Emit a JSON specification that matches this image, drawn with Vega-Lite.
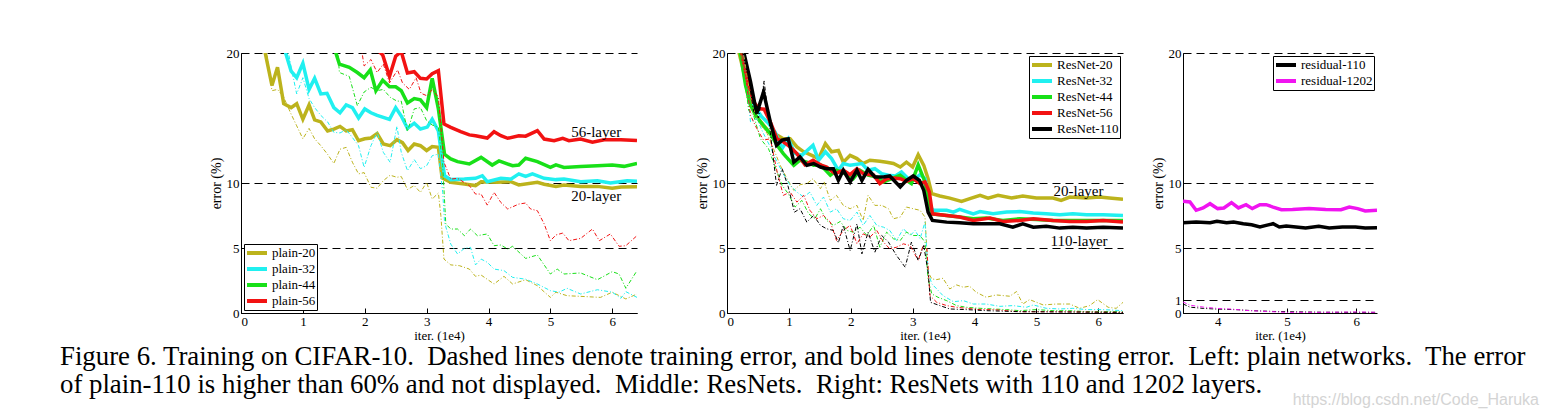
{
  "$schema": "https://vega.github.io/schema/vega-lite/v6.json",
  "padding": {"left": 60, "top": 47, "right": 5, "bottom": 5},
  "background": "white",
  "config": {
    "font": "Liberation Serif",
    "view": {"stroke": null},
    "axis": {
      "labelFont": "Liberation Serif", "labelFontSize": 13, "labelColor": "black",
      "titleFont": "Liberation Serif", "titleFontSize": 14, "titleFontWeight": "normal", "titleColor": "black",
      "domainColor": "black", "domainWidth": 1, "tickColor": "black", "tickSize": -5, "labelPadding": 7,
      "gridColor": "black", "gridDash": [8, 5], "gridWidth": 1, "gridOpacity": 1
    },
    "axisX": {"grid": false, "titlePadding": 1, "titleFontSize": 13},
    "axisY": {"grid": true, "titlePadding": 3},
    "legend": {
      "strokeColor": "black", "fillColor": "white", "padding": 1, "cornerRadius": 0,
      "labelFont": "Liberation Serif", "labelFontSize": 13, "labelColor": "black",
      "symbolType": "stroke", "symbolStrokeWidth": 4, "symbolSize": 400, "symbolDash": [],
      "rowPadding": 0, "clipHeight": 16, "labelOffset": 3, "offset": 3, "titlePadding": 0
    }
  },
  "datasets": {
    "left": [
      {"series":"plain-20","kind":"test","x":0.37,"y":20.5},{"series":"plain-20","kind":"test","x":0.5,"y":17.5},{"series":"plain-20","kind":"test","x":0.59,"y":18.9},{"series":"plain-20","kind":"test","x":0.69,"y":16.1},{"series":"plain-20","kind":"test","x":0.81,"y":15.8},{"series":"plain-20","kind":"test","x":0.9,"y":16.1},{"series":"plain-20","kind":"test","x":1.0,"y":14.9},{"series":"plain-20","kind":"test","x":1.1,"y":16.0},{"series":"plain-20","kind":"test","x":1.19,"y":14.85},{"series":"plain-20","kind":"test","x":1.29,"y":14.7},{"series":"plain-20","kind":"test","x":1.4,"y":14.0},{"series":"plain-20","kind":"test","x":1.5,"y":14.15},{"series":"plain-20","kind":"test","x":1.6,"y":14.35},{"series":"plain-20","kind":"test","x":1.7,"y":14.0},{"series":"plain-20","kind":"test","x":1.8,"y":14.1},{"series":"plain-20","kind":"test","x":1.9,"y":13.25},{"series":"plain-20","kind":"test","x":2.0,"y":13.4},{"series":"plain-20","kind":"test","x":2.1,"y":13.46},{"series":"plain-20","kind":"test","x":2.2,"y":13.8},{"series":"plain-20","kind":"test","x":2.3,"y":13.0},{"series":"plain-20","kind":"test","x":2.41,"y":12.87},{"series":"plain-20","kind":"test","x":2.52,"y":13.33},{"series":"plain-20","kind":"test","x":2.61,"y":13.1},{"series":"plain-20","kind":"test","x":2.7,"y":12.5},{"series":"plain-20","kind":"test","x":2.8,"y":13.0},{"series":"plain-20","kind":"test","x":2.9,"y":12.87},{"series":"plain-20","kind":"test","x":3.0,"y":12.5},{"series":"plain-20","kind":"test","x":3.09,"y":12.8},{"series":"plain-20","kind":"test","x":3.19,"y":12.74},{"series":"plain-20","kind":"test","x":3.25,"y":10.4},{"series":"plain-20","kind":"test","x":3.39,"y":10.05},{"series":"plain-20","kind":"test","x":3.61,"y":9.92},{"series":"plain-20","kind":"test","x":3.79,"y":9.8},{"series":"plain-20","kind":"test","x":3.88,"y":10.1},{"series":"plain-20","kind":"test","x":4.14,"y":10.05},{"series":"plain-20","kind":"test","x":4.36,"y":10.1},{"series":"plain-20","kind":"test","x":4.49,"y":9.85},{"series":"plain-20","kind":"test","x":4.79,"y":10.05},{"series":"plain-20","kind":"test","x":4.9,"y":9.9},{"series":"plain-20","kind":"test","x":5.09,"y":9.74},{"series":"plain-20","kind":"test","x":5.22,"y":9.85},{"series":"plain-20","kind":"test","x":5.49,"y":9.74},{"series":"plain-20","kind":"test","x":5.76,"y":9.74},{"series":"plain-20","kind":"test","x":6.0,"y":9.6},{"series":"plain-20","kind":"test","x":6.14,"y":9.7},{"series":"plain-20","kind":"test","x":6.4,"y":9.72},
      {"series":"plain-32","kind":"test","x":0.69,"y":20.5},{"series":"plain-32","kind":"test","x":0.81,"y":18.6},{"series":"plain-32","kind":"test","x":0.9,"y":18.1},{"series":"plain-32","kind":"test","x":1.0,"y":19.2},{"series":"plain-32","kind":"test","x":1.1,"y":17.2},{"series":"plain-32","kind":"test","x":1.19,"y":18.05},{"series":"plain-32","kind":"test","x":1.29,"y":16.85},{"series":"plain-32","kind":"test","x":1.39,"y":16.9},{"series":"plain-32","kind":"test","x":1.5,"y":15.8},{"series":"plain-32","kind":"test","x":1.6,"y":15.4},{"series":"plain-32","kind":"test","x":1.7,"y":16.0},{"series":"plain-32","kind":"test","x":1.8,"y":15.8},{"series":"plain-32","kind":"test","x":1.9,"y":15.0},{"series":"plain-32","kind":"test","x":2.0,"y":15.7},{"series":"plain-32","kind":"test","x":2.1,"y":15.4},{"series":"plain-32","kind":"test","x":2.2,"y":15.2},{"series":"plain-32","kind":"test","x":2.4,"y":14.9},{"series":"plain-32","kind":"test","x":2.5,"y":15.8},{"series":"plain-32","kind":"test","x":2.59,"y":15.15},{"series":"plain-32","kind":"test","x":2.69,"y":14.2},{"series":"plain-32","kind":"test","x":2.8,"y":14.6},{"series":"plain-32","kind":"test","x":2.9,"y":14.15},{"series":"plain-32","kind":"test","x":3.01,"y":14.3},{"series":"plain-32","kind":"test","x":3.09,"y":14.9},{"series":"plain-32","kind":"test","x":3.19,"y":14.0},{"series":"plain-32","kind":"test","x":3.26,"y":11.5},{"series":"plain-32","kind":"test","x":3.29,"y":10.56},{"series":"plain-32","kind":"test","x":3.39,"y":10.26},{"series":"plain-32","kind":"test","x":3.61,"y":10.3},{"series":"plain-32","kind":"test","x":3.79,"y":10.36},{"series":"plain-32","kind":"test","x":3.9,"y":10.56},{"series":"plain-32","kind":"test","x":3.98,"y":10.1},{"series":"plain-32","kind":"test","x":4.2,"y":10.36},{"series":"plain-32","kind":"test","x":4.36,"y":10.3},{"series":"plain-32","kind":"test","x":4.49,"y":10.7},{"series":"plain-32","kind":"test","x":4.6,"y":10.5},{"series":"plain-32","kind":"test","x":4.71,"y":10.7},{"series":"plain-32","kind":"test","x":4.9,"y":10.36},{"series":"plain-32","kind":"test","x":5.09,"y":10.26},{"series":"plain-32","kind":"test","x":5.22,"y":10.3},{"series":"plain-32","kind":"test","x":5.49,"y":10.1},{"series":"plain-32","kind":"test","x":5.76,"y":10.18},{"series":"plain-32","kind":"test","x":5.97,"y":10.0},{"series":"plain-32","kind":"test","x":6.24,"y":10.18},{"series":"plain-32","kind":"test","x":6.4,"y":10.13},
      {"series":"plain-44","kind":"test","x":1.5,"y":20.5},{"series":"plain-44","kind":"test","x":1.59,"y":19.15},{"series":"plain-44","kind":"test","x":1.75,"y":18.9},{"series":"plain-44","kind":"test","x":1.88,"y":18.5},{"series":"plain-44","kind":"test","x":1.99,"y":18.1},{"series":"plain-44","kind":"test","x":2.09,"y":18.7},{"series":"plain-44","kind":"test","x":2.18,"y":17.1},{"series":"plain-44","kind":"test","x":2.29,"y":17.9},{"series":"plain-44","kind":"test","x":2.4,"y":17.4},{"series":"plain-44","kind":"test","x":2.5,"y":17.4},{"series":"plain-44","kind":"test","x":2.59,"y":17.1},{"series":"plain-44","kind":"test","x":2.69,"y":16.15},{"series":"plain-44","kind":"test","x":2.8,"y":16.5},{"series":"plain-44","kind":"test","x":2.9,"y":16.4},{"series":"plain-44","kind":"test","x":3.0,"y":15.8},{"series":"plain-44","kind":"test","x":3.09,"y":18.05},{"series":"plain-44","kind":"test","x":3.19,"y":15.7},{"series":"plain-44","kind":"test","x":3.29,"y":12.2},{"series":"plain-44","kind":"test","x":3.39,"y":11.85},{"series":"plain-44","kind":"test","x":3.5,"y":11.64},{"series":"plain-44","kind":"test","x":3.69,"y":11.46},{"series":"plain-44","kind":"test","x":3.88,"y":11.97},{"series":"plain-44","kind":"test","x":4.06,"y":11.38},{"series":"plain-44","kind":"test","x":4.17,"y":11.7},{"series":"plain-44","kind":"test","x":4.39,"y":11.33},{"series":"plain-44","kind":"test","x":4.49,"y":11.38},{"series":"plain-44","kind":"test","x":4.6,"y":11.9},{"series":"plain-44","kind":"test","x":4.79,"y":11.64},{"series":"plain-44","kind":"test","x":5.0,"y":11.2},{"series":"plain-44","kind":"test","x":5.09,"y":11.4},{"series":"plain-44","kind":"test","x":5.22,"y":11.2},{"series":"plain-44","kind":"test","x":5.49,"y":11.26},{"series":"plain-44","kind":"test","x":5.76,"y":11.33},{"series":"plain-44","kind":"test","x":6.0,"y":11.38},{"series":"plain-44","kind":"test","x":6.19,"y":11.28},{"series":"plain-44","kind":"test","x":6.4,"y":11.5},
      {"series":"plain-56","kind":"test","x":2.15,"y":20.5},{"series":"plain-56","kind":"test","x":2.29,"y":19.85},{"series":"plain-56","kind":"test","x":2.4,"y":18.2},{"series":"plain-56","kind":"test","x":2.5,"y":19.75},{"series":"plain-56","kind":"test","x":2.59,"y":20.1},{"series":"plain-56","kind":"test","x":2.69,"y":18.46},{"series":"plain-56","kind":"test","x":2.8,"y":18.56},{"series":"plain-56","kind":"test","x":2.9,"y":18.05},{"series":"plain-56","kind":"test","x":3.0,"y":18.0},{"series":"plain-56","kind":"test","x":3.09,"y":18.4},{"series":"plain-56","kind":"test","x":3.19,"y":18.64},{"series":"plain-56","kind":"test","x":3.28,"y":14.54},{"series":"plain-56","kind":"test","x":3.39,"y":14.28},{"series":"plain-56","kind":"test","x":3.55,"y":13.95},{"series":"plain-56","kind":"test","x":3.69,"y":13.7},{"series":"plain-56","kind":"test","x":3.79,"y":13.64},{"series":"plain-56","kind":"test","x":3.98,"y":13.46},{"series":"plain-56","kind":"test","x":4.09,"y":13.95},{"series":"plain-56","kind":"test","x":4.2,"y":13.64},{"series":"plain-56","kind":"test","x":4.31,"y":13.44},{"series":"plain-56","kind":"test","x":4.49,"y":13.64},{"series":"plain-56","kind":"test","x":4.6,"y":13.6},{"series":"plain-56","kind":"test","x":4.79,"y":14.03},{"series":"plain-56","kind":"test","x":4.9,"y":13.38},{"series":"plain-56","kind":"test","x":5.06,"y":13.26},{"series":"plain-56","kind":"test","x":5.2,"y":13.44},{"series":"plain-56","kind":"test","x":5.3,"y":13.26},{"series":"plain-56","kind":"test","x":5.49,"y":13.38},{"series":"plain-56","kind":"test","x":5.68,"y":13.13},{"series":"plain-56","kind":"test","x":5.87,"y":13.33},{"series":"plain-56","kind":"test","x":6.14,"y":13.33},{"series":"plain-56","kind":"test","x":6.4,"y":13.26},
      {"series":"plain-20","kind":"train","x":0.4,"y":20.5},{"series":"plain-20","kind":"train","x":0.5,"y":17.1},{"series":"plain-20","kind":"train","x":0.59,"y":17.2},{"series":"plain-20","kind":"train","x":0.69,"y":16.6},{"series":"plain-20","kind":"train","x":0.81,"y":15.3},{"series":"plain-20","kind":"train","x":0.9,"y":14.4},{"series":"plain-20","kind":"train","x":1.0,"y":13.4},{"series":"plain-20","kind":"train","x":1.1,"y":14.2},{"series":"plain-20","kind":"train","x":1.19,"y":13.4},{"series":"plain-20","kind":"train","x":1.29,"y":12.87},{"series":"plain-20","kind":"train","x":1.4,"y":12.2},{"series":"plain-20","kind":"train","x":1.5,"y":11.5},{"series":"plain-20","kind":"train","x":1.6,"y":12.6},{"series":"plain-20","kind":"train","x":1.7,"y":12.74},{"series":"plain-20","kind":"train","x":1.8,"y":11.6},{"series":"plain-20","kind":"train","x":1.9,"y":10.7},{"series":"plain-20","kind":"train","x":1.99,"y":10.8},{"series":"plain-20","kind":"train","x":2.1,"y":9.67},{"series":"plain-20","kind":"train","x":2.2,"y":9.6},{"series":"plain-20","kind":"train","x":2.3,"y":10.18},{"series":"plain-20","kind":"train","x":2.41,"y":10.6},{"series":"plain-20","kind":"train","x":2.52,"y":10.44},{"series":"plain-20","kind":"train","x":2.59,"y":10.5},{"series":"plain-20","kind":"train","x":2.69,"y":9.5},{"series":"plain-20","kind":"train","x":2.8,"y":9.8},{"series":"plain-20","kind":"train","x":2.9,"y":9.28},{"series":"plain-20","kind":"train","x":3.0,"y":10.05},{"series":"plain-20","kind":"train","x":3.09,"y":8.77},{"series":"plain-20","kind":"train","x":3.19,"y":9.23},{"series":"plain-20","kind":"train","x":3.23,"y":7.5},{"series":"plain-20","kind":"train","x":3.28,"y":4.15},{"series":"plain-20","kind":"train","x":3.39,"y":3.7},{"series":"plain-20","kind":"train","x":3.53,"y":3.64},{"series":"plain-20","kind":"train","x":3.69,"y":3.38},{"series":"plain-20","kind":"train","x":3.79,"y":2.82},{"series":"plain-20","kind":"train","x":3.88,"y":2.92},{"series":"plain-20","kind":"train","x":4.09,"y":2.23},{"series":"plain-20","kind":"train","x":4.25,"y":2.82},{"series":"plain-20","kind":"train","x":4.39,"y":2.23},{"series":"plain-20","kind":"train","x":4.6,"y":2.56},{"series":"plain-20","kind":"train","x":4.79,"y":2.1},{"series":"plain-20","kind":"train","x":5.0,"y":1.2},{"series":"plain-20","kind":"train","x":5.09,"y":1.6},{"series":"plain-20","kind":"train","x":5.27,"y":1.33},{"series":"plain-20","kind":"train","x":5.49,"y":1.28},{"series":"plain-20","kind":"train","x":5.81,"y":1.2},{"series":"plain-20","kind":"train","x":6.0,"y":1.6},{"series":"plain-20","kind":"train","x":6.22,"y":1.08},{"series":"plain-20","kind":"train","x":6.4,"y":1.46},
      {"series":"plain-32","kind":"train","x":0.75,"y":20.5},{"series":"plain-32","kind":"train","x":0.81,"y":18.9},{"series":"plain-32","kind":"train","x":0.9,"y":16.85},{"series":"plain-32","kind":"train","x":1.0,"y":18.1},{"series":"plain-32","kind":"train","x":1.1,"y":16.5},{"series":"plain-32","kind":"train","x":1.19,"y":15.8},{"series":"plain-32","kind":"train","x":1.29,"y":15.2},{"series":"plain-32","kind":"train","x":1.4,"y":14.7},{"series":"plain-32","kind":"train","x":1.5,"y":13.9},{"series":"plain-32","kind":"train","x":1.6,"y":13.85},{"series":"plain-32","kind":"train","x":1.7,"y":14.1},{"series":"plain-32","kind":"train","x":1.8,"y":13.5},{"series":"plain-32","kind":"train","x":1.9,"y":12.87},{"series":"plain-32","kind":"train","x":1.99,"y":11.2},{"series":"plain-32","kind":"train","x":2.1,"y":12.87},{"series":"plain-32","kind":"train","x":2.2,"y":13.9},{"series":"plain-32","kind":"train","x":2.3,"y":12.36},{"series":"plain-32","kind":"train","x":2.41,"y":11.6},{"series":"plain-32","kind":"train","x":2.52,"y":14.36},{"series":"plain-32","kind":"train","x":2.59,"y":12.36},{"series":"plain-32","kind":"train","x":2.69,"y":10.95},{"series":"plain-32","kind":"train","x":2.8,"y":11.8},{"series":"plain-32","kind":"train","x":2.9,"y":11.1},{"series":"plain-32","kind":"train","x":3.0,"y":11.33},{"series":"plain-32","kind":"train","x":3.09,"y":12.1},{"series":"plain-32","kind":"train","x":3.19,"y":12.23},{"series":"plain-32","kind":"train","x":3.26,"y":9.28},{"series":"plain-32","kind":"train","x":3.29,"y":6.97},{"series":"plain-32","kind":"train","x":3.39,"y":5.3},{"series":"plain-32","kind":"train","x":3.5,"y":4.54},{"series":"plain-32","kind":"train","x":3.61,"y":4.97},{"series":"plain-32","kind":"train","x":3.71,"y":5.05},{"series":"plain-32","kind":"train","x":3.79,"y":3.7},{"series":"plain-32","kind":"train","x":3.88,"y":4.15},{"series":"plain-32","kind":"train","x":3.98,"y":3.9},{"series":"plain-32","kind":"train","x":4.09,"y":3.38},{"series":"plain-32","kind":"train","x":4.25,"y":3.26},{"series":"plain-32","kind":"train","x":4.39,"y":2.74},{"series":"plain-32","kind":"train","x":4.6,"y":2.6},{"series":"plain-32","kind":"train","x":4.79,"y":2.23},{"series":"plain-32","kind":"train","x":5.0,"y":1.72},{"series":"plain-32","kind":"train","x":5.14,"y":1.6},{"series":"plain-32","kind":"train","x":5.27,"y":1.9},{"series":"plain-32","kind":"train","x":5.49,"y":1.46},{"series":"plain-32","kind":"train","x":5.76,"y":1.79},{"series":"plain-32","kind":"train","x":6.0,"y":1.6},{"series":"plain-32","kind":"train","x":6.14,"y":1.13},{"series":"plain-32","kind":"train","x":6.22,"y":1.64},{"series":"plain-32","kind":"train","x":6.4,"y":1.2},
      {"series":"plain-44","kind":"train","x":1.56,"y":20.5},{"series":"plain-44","kind":"train","x":1.59,"y":18.5},{"series":"plain-44","kind":"train","x":1.75,"y":18.2},{"series":"plain-44","kind":"train","x":1.88,"y":15.95},{"series":"plain-44","kind":"train","x":1.99,"y":17.0},{"series":"plain-44","kind":"train","x":2.1,"y":17.36},{"series":"plain-44","kind":"train","x":2.2,"y":17.1},{"series":"plain-44","kind":"train","x":2.3,"y":17.2},{"series":"plain-44","kind":"train","x":2.41,"y":16.6},{"series":"plain-44","kind":"train","x":2.52,"y":16.3},{"series":"plain-44","kind":"train","x":2.59,"y":16.3},{"series":"plain-44","kind":"train","x":2.69,"y":13.95},{"series":"plain-44","kind":"train","x":2.8,"y":15.7},{"series":"plain-44","kind":"train","x":2.9,"y":15.8},{"series":"plain-44","kind":"train","x":3.0,"y":14.8},{"series":"plain-44","kind":"train","x":3.09,"y":14.46},{"series":"plain-44","kind":"train","x":3.19,"y":14.28},{"series":"plain-44","kind":"train","x":3.26,"y":11.33},{"series":"plain-44","kind":"train","x":3.31,"y":6.85},{"series":"plain-44","kind":"train","x":3.39,"y":6.46},{"series":"plain-44","kind":"train","x":3.5,"y":6.46},{"series":"plain-44","kind":"train","x":3.61,"y":5.95},{"series":"plain-44","kind":"train","x":3.71,"y":6.46},{"series":"plain-44","kind":"train","x":3.82,"y":5.95},{"series":"plain-44","kind":"train","x":3.98,"y":6.08},{"series":"plain-44","kind":"train","x":4.09,"y":5.18},{"series":"plain-44","kind":"train","x":4.2,"y":5.23},{"series":"plain-44","kind":"train","x":4.31,"y":4.92},{"series":"plain-44","kind":"train","x":4.39,"y":5.13},{"series":"plain-44","kind":"train","x":4.6,"y":4.2},{"series":"plain-44","kind":"train","x":4.79,"y":4.46},{"series":"plain-44","kind":"train","x":5.0,"y":3.0},{"series":"plain-44","kind":"train","x":5.11,"y":3.38},{"series":"plain-44","kind":"train","x":5.22,"y":3.0},{"series":"plain-44","kind":"train","x":5.49,"y":3.08},{"series":"plain-44","kind":"train","x":5.76,"y":2.56},{"series":"plain-44","kind":"train","x":6.0,"y":3.18},{"series":"plain-44","kind":"train","x":6.11,"y":3.0},{"series":"plain-44","kind":"train","x":6.22,"y":1.9},{"series":"plain-44","kind":"train","x":6.4,"y":3.26},
      {"series":"plain-56","kind":"train","x":1.94,"y":20.5},{"series":"plain-56","kind":"train","x":1.99,"y":19.0},{"series":"plain-56","kind":"train","x":2.1,"y":19.5},{"series":"plain-56","kind":"train","x":2.2,"y":18.5},{"series":"plain-56","kind":"train","x":2.3,"y":19.15},{"series":"plain-56","kind":"train","x":2.4,"y":17.7},{"series":"plain-56","kind":"train","x":2.53,"y":18.7},{"series":"plain-56","kind":"train","x":2.61,"y":17.7},{"series":"plain-56","kind":"train","x":2.72,"y":17.2},{"series":"plain-56","kind":"train","x":2.83,"y":18.1},{"series":"plain-56","kind":"train","x":2.91,"y":16.9},{"series":"plain-56","kind":"train","x":3.01,"y":16.7},{"series":"plain-56","kind":"train","x":3.09,"y":17.2},{"series":"plain-56","kind":"train","x":3.19,"y":16.6},{"series":"plain-56","kind":"train","x":3.28,"y":11.6},{"series":"plain-56","kind":"train","x":3.39,"y":10.3},{"series":"plain-56","kind":"train","x":3.5,"y":10.36},{"series":"plain-56","kind":"train","x":3.69,"y":9.8},{"series":"plain-56","kind":"train","x":3.79,"y":9.15},{"series":"plain-56","kind":"train","x":3.88,"y":9.15},{"series":"plain-56","kind":"train","x":3.98,"y":8.3},{"series":"plain-56","kind":"train","x":4.09,"y":9.28},{"series":"plain-56","kind":"train","x":4.2,"y":8.5},{"series":"plain-56","kind":"train","x":4.31,"y":8.0},{"series":"plain-56","kind":"train","x":4.49,"y":8.38},{"series":"plain-56","kind":"train","x":4.6,"y":8.46},{"series":"plain-56","kind":"train","x":4.68,"y":8.0},{"series":"plain-56","kind":"train","x":4.79,"y":7.87},{"series":"plain-56","kind":"train","x":4.9,"y":6.85},{"series":"plain-56","kind":"train","x":5.0,"y":5.56},{"series":"plain-56","kind":"train","x":5.09,"y":6.0},{"series":"plain-56","kind":"train","x":5.2,"y":6.15},{"series":"plain-56","kind":"train","x":5.3,"y":5.56},{"series":"plain-56","kind":"train","x":5.49,"y":5.74},{"series":"plain-56","kind":"train","x":5.68,"y":6.46},{"series":"plain-56","kind":"train","x":5.79,"y":5.56},{"series":"plain-56","kind":"train","x":5.97,"y":6.08},{"series":"plain-56","kind":"train","x":6.11,"y":5.13},{"series":"plain-56","kind":"train","x":6.22,"y":5.18},{"series":"plain-56","kind":"train","x":6.4,"y":5.95}
    ],
    "middle": [
      {"series":"ResNet-20","kind":"test","x":0.17,"y":20.5},{"series":"ResNet-20","kind":"test","x":0.27,"y":18.56},{"series":"ResNet-20","kind":"test","x":0.35,"y":16.5},{"series":"ResNet-20","kind":"test","x":0.46,"y":15.2},{"series":"ResNet-20","kind":"test","x":0.59,"y":14.45},{"series":"ResNet-20","kind":"test","x":0.7,"y":13.8},{"series":"ResNet-20","kind":"test","x":0.81,"y":13.68},{"series":"ResNet-20","kind":"test","x":0.91,"y":13.4},{"series":"ResNet-20","kind":"test","x":1.02,"y":13.4},{"series":"ResNet-20","kind":"test","x":1.13,"y":12.78},{"series":"ResNet-20","kind":"test","x":1.24,"y":12.4},{"series":"ResNet-20","kind":"test","x":1.37,"y":12.13},{"series":"ResNet-20","kind":"test","x":1.48,"y":11.88},{"series":"ResNet-20","kind":"test","x":1.59,"y":13.03},{"series":"ResNet-20","kind":"test","x":1.69,"y":12.4},{"series":"ResNet-20","kind":"test","x":1.8,"y":12.5},{"series":"ResNet-20","kind":"test","x":1.88,"y":11.6},{"series":"ResNet-20","kind":"test","x":1.99,"y":12.13},{"series":"ResNet-20","kind":"test","x":2.1,"y":11.88},{"series":"ResNet-20","kind":"test","x":2.2,"y":11.5},{"series":"ResNet-20","kind":"test","x":2.31,"y":11.75},{"series":"ResNet-20","kind":"test","x":2.47,"y":11.67},{"series":"ResNet-20","kind":"test","x":2.58,"y":11.6},{"series":"ResNet-20","kind":"test","x":2.69,"y":11.5},{"series":"ResNet-20","kind":"test","x":2.8,"y":11.23},{"series":"ResNet-20","kind":"test","x":2.9,"y":11.6},{"series":"ResNet-20","kind":"test","x":3.0,"y":11.23},{"series":"ResNet-20","kind":"test","x":3.09,"y":12.18},{"series":"ResNet-20","kind":"test","x":3.18,"y":11.36},{"series":"ResNet-20","kind":"test","x":3.25,"y":10.33},{"series":"ResNet-20","kind":"test","x":3.31,"y":9.18},{"series":"ResNet-20","kind":"test","x":3.44,"y":9.0},{"series":"ResNet-20","kind":"test","x":3.6,"y":8.84},{"series":"ResNet-20","kind":"test","x":3.79,"y":8.59},{"series":"ResNet-20","kind":"test","x":3.95,"y":8.84},{"series":"ResNet-20","kind":"test","x":4.09,"y":9.05},{"series":"ResNet-20","kind":"test","x":4.22,"y":8.84},{"series":"ResNet-20","kind":"test","x":4.38,"y":9.05},{"series":"ResNet-20","kind":"test","x":4.6,"y":8.84},{"series":"ResNet-20","kind":"test","x":4.78,"y":9.0},{"series":"ResNet-20","kind":"test","x":5.0,"y":8.84},{"series":"ResNet-20","kind":"test","x":5.27,"y":8.84},{"series":"ResNet-20","kind":"test","x":5.4,"y":8.66},{"series":"ResNet-20","kind":"test","x":5.54,"y":8.92},{"series":"ResNet-20","kind":"test","x":5.81,"y":8.84},{"series":"ResNet-20","kind":"test","x":6.02,"y":8.92},{"series":"ResNet-20","kind":"test","x":6.18,"y":8.84},{"series":"ResNet-20","kind":"test","x":6.4,"y":8.74},
      {"series":"ResNet-32","kind":"test","x":0.22,"y":20.5},{"series":"ResNet-32","kind":"test","x":0.32,"y":17.5},{"series":"ResNet-32","kind":"test","x":0.43,"y":16.0},{"series":"ResNet-32","kind":"test","x":0.56,"y":15.1},{"series":"ResNet-32","kind":"test","x":0.67,"y":14.6},{"series":"ResNet-32","kind":"test","x":0.78,"y":13.9},{"series":"ResNet-32","kind":"test","x":0.89,"y":12.65},{"series":"ResNet-32","kind":"test","x":0.99,"y":13.4},{"series":"ResNet-32","kind":"test","x":1.1,"y":12.26},{"series":"ResNet-32","kind":"test","x":1.21,"y":12.13},{"series":"ResNet-32","kind":"test","x":1.39,"y":12.9},{"series":"ResNet-32","kind":"test","x":1.48,"y":11.75},{"series":"ResNet-32","kind":"test","x":1.59,"y":12.4},{"series":"ResNet-32","kind":"test","x":1.69,"y":11.88},{"series":"ResNet-32","kind":"test","x":1.8,"y":10.98},{"series":"ResNet-32","kind":"test","x":1.88,"y":11.5},{"series":"ResNet-32","kind":"test","x":1.99,"y":11.36},{"series":"ResNet-32","kind":"test","x":2.18,"y":11.5},{"series":"ResNet-32","kind":"test","x":2.28,"y":10.98},{"series":"ResNet-32","kind":"test","x":2.39,"y":11.1},{"series":"ResNet-32","kind":"test","x":2.5,"y":10.72},{"series":"ResNet-32","kind":"test","x":2.61,"y":10.6},{"series":"ResNet-32","kind":"test","x":2.72,"y":10.54},{"series":"ResNet-32","kind":"test","x":2.82,"y":10.85},{"series":"ResNet-32","kind":"test","x":2.93,"y":10.33},{"series":"ResNet-32","kind":"test","x":3.04,"y":10.33},{"series":"ResNet-32","kind":"test","x":3.12,"y":10.64},{"series":"ResNet-32","kind":"test","x":3.2,"y":10.33},{"series":"ResNet-32","kind":"test","x":3.27,"y":8.28},{"series":"ResNet-32","kind":"test","x":3.33,"y":7.9},{"series":"ResNet-32","kind":"test","x":3.55,"y":7.9},{"series":"ResNet-32","kind":"test","x":3.66,"y":7.76},{"series":"ResNet-32","kind":"test","x":3.76,"y":7.97},{"series":"ResNet-32","kind":"test","x":3.98,"y":7.63},{"series":"ResNet-32","kind":"test","x":4.09,"y":7.8},{"series":"ResNet-32","kind":"test","x":4.3,"y":7.63},{"series":"ResNet-32","kind":"test","x":4.52,"y":7.76},{"series":"ResNet-32","kind":"test","x":4.73,"y":7.8},{"series":"ResNet-32","kind":"test","x":4.95,"y":7.7},{"series":"ResNet-32","kind":"test","x":5.16,"y":7.63},{"series":"ResNet-32","kind":"test","x":5.38,"y":7.56},{"series":"ResNet-32","kind":"test","x":5.59,"y":7.63},{"series":"ResNet-32","kind":"test","x":5.81,"y":7.56},{"series":"ResNet-32","kind":"test","x":6.08,"y":7.56},{"series":"ResNet-32","kind":"test","x":6.4,"y":7.5},
      {"series":"ResNet-44","kind":"test","x":0.2,"y":20.5},{"series":"ResNet-44","kind":"test","x":0.3,"y":17.5},{"series":"ResNet-44","kind":"test","x":0.38,"y":16.0},{"series":"ResNet-44","kind":"test","x":0.48,"y":15.1},{"series":"ResNet-44","kind":"test","x":0.59,"y":14.4},{"series":"ResNet-44","kind":"test","x":0.7,"y":13.8},{"series":"ResNet-44","kind":"test","x":0.81,"y":12.9},{"series":"ResNet-44","kind":"test","x":0.91,"y":12.26},{"series":"ResNet-44","kind":"test","x":1.08,"y":11.36},{"series":"ResNet-44","kind":"test","x":1.18,"y":11.75},{"series":"ResNet-44","kind":"test","x":1.29,"y":11.6},{"series":"ResNet-44","kind":"test","x":1.4,"y":11.36},{"series":"ResNet-44","kind":"test","x":1.51,"y":11.4},{"series":"ResNet-44","kind":"test","x":1.67,"y":10.6},{"series":"ResNet-44","kind":"test","x":1.77,"y":10.98},{"series":"ResNet-44","kind":"test","x":1.91,"y":10.72},{"series":"ResNet-44","kind":"test","x":2.04,"y":10.33},{"series":"ResNet-44","kind":"test","x":2.15,"y":10.98},{"series":"ResNet-44","kind":"test","x":2.28,"y":10.6},{"series":"ResNet-44","kind":"test","x":2.42,"y":10.46},{"series":"ResNet-44","kind":"test","x":2.53,"y":10.08},{"series":"ResNet-44","kind":"test","x":2.66,"y":10.33},{"series":"ResNet-44","kind":"test","x":2.8,"y":10.6},{"series":"ResNet-44","kind":"test","x":2.9,"y":10.2},{"series":"ResNet-44","kind":"test","x":2.98,"y":9.95},{"series":"ResNet-44","kind":"test","x":3.09,"y":11.4},{"series":"ResNet-44","kind":"test","x":3.18,"y":10.33},{"series":"ResNet-44","kind":"test","x":3.25,"y":8.92},{"series":"ResNet-44","kind":"test","x":3.31,"y":7.63},{"series":"ResNet-44","kind":"test","x":3.55,"y":7.5},{"series":"ResNet-44","kind":"test","x":3.76,"y":7.38},{"series":"ResNet-44","kind":"test","x":3.98,"y":7.25},{"series":"ResNet-44","kind":"test","x":4.19,"y":7.3},{"series":"ResNet-44","kind":"test","x":4.46,"y":7.12},{"series":"ResNet-44","kind":"test","x":4.73,"y":7.25},{"series":"ResNet-44","kind":"test","x":5.0,"y":7.2},{"series":"ResNet-44","kind":"test","x":5.27,"y":7.12},{"series":"ResNet-44","kind":"test","x":5.54,"y":7.12},{"series":"ResNet-44","kind":"test","x":5.81,"y":7.12},{"series":"ResNet-44","kind":"test","x":6.08,"y":7.12},{"series":"ResNet-44","kind":"test","x":6.4,"y":7.12},
      {"series":"ResNet-56","kind":"test","x":0.22,"y":20.5},{"series":"ResNet-56","kind":"test","x":0.32,"y":18.05},{"series":"ResNet-56","kind":"test","x":0.43,"y":16.25},{"series":"ResNet-56","kind":"test","x":0.51,"y":15.73},{"series":"ResNet-56","kind":"test","x":0.6,"y":15.68},{"series":"ResNet-56","kind":"test","x":0.7,"y":14.7},{"series":"ResNet-56","kind":"test","x":0.81,"y":13.4},{"series":"ResNet-56","kind":"test","x":0.91,"y":13.16},{"series":"ResNet-56","kind":"test","x":1.02,"y":12.78},{"series":"ResNet-56","kind":"test","x":1.13,"y":12.26},{"series":"ResNet-56","kind":"test","x":1.26,"y":11.4},{"series":"ResNet-56","kind":"test","x":1.39,"y":11.75},{"series":"ResNet-56","kind":"test","x":1.51,"y":11.4},{"series":"ResNet-56","kind":"test","x":1.61,"y":11.23},{"series":"ResNet-56","kind":"test","x":1.75,"y":10.72},{"series":"ResNet-56","kind":"test","x":1.88,"y":10.98},{"series":"ResNet-56","kind":"test","x":1.99,"y":10.64},{"series":"ResNet-56","kind":"test","x":2.1,"y":11.1},{"series":"ResNet-56","kind":"test","x":2.2,"y":10.72},{"series":"ResNet-56","kind":"test","x":2.37,"y":10.6},{"series":"ResNet-56","kind":"test","x":2.47,"y":9.95},{"series":"ResNet-56","kind":"test","x":2.58,"y":10.33},{"series":"ResNet-56","kind":"test","x":2.69,"y":10.38},{"series":"ResNet-56","kind":"test","x":2.8,"y":10.33},{"series":"ResNet-56","kind":"test","x":2.9,"y":10.13},{"series":"ResNet-56","kind":"test","x":3.01,"y":10.33},{"series":"ResNet-56","kind":"test","x":3.12,"y":9.95},{"series":"ResNet-56","kind":"test","x":3.2,"y":10.08},{"series":"ResNet-56","kind":"test","x":3.27,"y":9.3},{"series":"ResNet-56","kind":"test","x":3.32,"y":7.63},{"series":"ResNet-56","kind":"test","x":3.55,"y":7.5},{"series":"ResNet-56","kind":"test","x":3.76,"y":7.38},{"series":"ResNet-56","kind":"test","x":3.98,"y":7.12},{"series":"ResNet-56","kind":"test","x":4.25,"y":7.3},{"series":"ResNet-56","kind":"test","x":4.46,"y":7.04},{"series":"ResNet-56","kind":"test","x":4.73,"y":7.12},{"series":"ResNet-56","kind":"test","x":4.95,"y":7.25},{"series":"ResNet-56","kind":"test","x":5.27,"y":7.12},{"series":"ResNet-56","kind":"test","x":5.54,"y":7.04},{"series":"ResNet-56","kind":"test","x":5.81,"y":7.04},{"series":"ResNet-56","kind":"test","x":6.08,"y":7.12},{"series":"ResNet-56","kind":"test","x":6.4,"y":6.99},
      {"series":"ResNet-110","kind":"test","x":0.25,"y":20.5},{"series":"ResNet-110","kind":"test","x":0.38,"y":17.8},{"series":"ResNet-110","kind":"test","x":0.48,"y":15.35},{"series":"ResNet-110","kind":"test","x":0.59,"y":17.0},{"series":"ResNet-110","kind":"test","x":0.7,"y":14.7},{"series":"ResNet-110","kind":"test","x":0.8,"y":12.9},{"series":"ResNet-110","kind":"test","x":0.89,"y":13.3},{"series":"ResNet-110","kind":"test","x":0.99,"y":13.4},{"series":"ResNet-110","kind":"test","x":1.08,"y":11.6},{"series":"ResNet-110","kind":"test","x":1.18,"y":12.0},{"series":"ResNet-110","kind":"test","x":1.29,"y":11.36},{"series":"ResNet-110","kind":"test","x":1.4,"y":11.5},{"series":"ResNet-110","kind":"test","x":1.51,"y":11.23},{"series":"ResNet-110","kind":"test","x":1.61,"y":11.1},{"series":"ResNet-110","kind":"test","x":1.72,"y":11.1},{"series":"ResNet-110","kind":"test","x":1.8,"y":10.2},{"series":"ResNet-110","kind":"test","x":1.88,"y":10.98},{"series":"ResNet-110","kind":"test","x":1.99,"y":10.08},{"series":"ResNet-110","kind":"test","x":2.1,"y":10.98},{"series":"ResNet-110","kind":"test","x":2.18,"y":10.2},{"series":"ResNet-110","kind":"test","x":2.28,"y":11.05},{"series":"ResNet-110","kind":"test","x":2.39,"y":10.46},{"series":"ResNet-110","kind":"test","x":2.53,"y":10.46},{"series":"ResNet-110","kind":"test","x":2.63,"y":10.54},{"series":"ResNet-110","kind":"test","x":2.8,"y":9.7},{"series":"ResNet-110","kind":"test","x":2.9,"y":10.2},{"series":"ResNet-110","kind":"test","x":3.01,"y":10.54},{"series":"ResNet-110","kind":"test","x":3.11,"y":10.2},{"series":"ResNet-110","kind":"test","x":3.18,"y":9.43},{"series":"ResNet-110","kind":"test","x":3.25,"y":7.76},{"series":"ResNet-110","kind":"test","x":3.32,"y":7.12},{"series":"ResNet-110","kind":"test","x":3.55,"y":6.99},{"series":"ResNet-110","kind":"test","x":3.76,"y":6.94},{"series":"ResNet-110","kind":"test","x":3.98,"y":6.86},{"series":"ResNet-110","kind":"test","x":4.19,"y":6.86},{"series":"ResNet-110","kind":"test","x":4.41,"y":6.86},{"series":"ResNet-110","kind":"test","x":4.62,"y":6.6},{"series":"ResNet-110","kind":"test","x":4.78,"y":6.86},{"series":"ResNet-110","kind":"test","x":4.95,"y":6.6},{"series":"ResNet-110","kind":"test","x":5.16,"y":6.68},{"series":"ResNet-110","kind":"test","x":5.38,"y":6.53},{"series":"ResNet-110","kind":"test","x":5.59,"y":6.6},{"series":"ResNet-110","kind":"test","x":5.81,"y":6.53},{"series":"ResNet-110","kind":"test","x":6.08,"y":6.6},{"series":"ResNet-110","kind":"test","x":6.4,"y":6.53},
      {"series":"ResNet-20","kind":"train","x":0.25,"y":20.5},{"series":"ResNet-20","kind":"train","x":0.4,"y":16.0},{"series":"ResNet-20","kind":"train","x":0.51,"y":14.7},{"series":"ResNet-20","kind":"train","x":0.65,"y":13.8},{"series":"ResNet-20","kind":"train","x":0.75,"y":12.65},{"series":"ResNet-20","kind":"train","x":0.86,"y":11.36},{"series":"ResNet-20","kind":"train","x":0.97,"y":10.33},{"series":"ResNet-20","kind":"train","x":1.08,"y":9.43},{"series":"ResNet-20","kind":"train","x":1.18,"y":9.87},{"series":"ResNet-20","kind":"train","x":1.29,"y":9.95},{"series":"ResNet-20","kind":"train","x":1.39,"y":10.33},{"series":"ResNet-20","kind":"train","x":1.51,"y":9.56},{"series":"ResNet-20","kind":"train","x":1.57,"y":10.08},{"series":"ResNet-20","kind":"train","x":1.67,"y":8.66},{"series":"ResNet-20","kind":"train","x":1.77,"y":9.05},{"series":"ResNet-20","kind":"train","x":1.88,"y":8.28},{"series":"ResNet-20","kind":"train","x":1.99,"y":8.02},{"series":"ResNet-20","kind":"train","x":2.1,"y":8.28},{"series":"ResNet-20","kind":"train","x":2.2,"y":7.12},{"series":"ResNet-20","kind":"train","x":2.28,"y":9.05},{"series":"ResNet-20","kind":"train","x":2.39,"y":8.28},{"series":"ResNet-20","kind":"train","x":2.5,"y":8.28},{"series":"ResNet-20","kind":"train","x":2.61,"y":8.02},{"series":"ResNet-20","kind":"train","x":2.69,"y":7.25},{"series":"ResNet-20","kind":"train","x":2.8,"y":7.38},{"series":"ResNet-20","kind":"train","x":2.9,"y":8.15},{"series":"ResNet-20","kind":"train","x":3.01,"y":8.02},{"series":"ResNet-20","kind":"train","x":3.12,"y":7.9},{"series":"ResNet-20","kind":"train","x":3.2,"y":7.38},{"series":"ResNet-20","kind":"train","x":3.25,"y":3.14},{"series":"ResNet-20","kind":"train","x":3.31,"y":2.62},{"series":"ResNet-20","kind":"train","x":3.39,"y":2.57},{"series":"ResNet-20","kind":"train","x":3.49,"y":2.67},{"series":"ResNet-20","kind":"train","x":3.6,"y":1.85},{"series":"ResNet-20","kind":"train","x":3.71,"y":2.16},{"series":"ResNet-20","kind":"train","x":3.82,"y":1.98},{"series":"ResNet-20","kind":"train","x":3.92,"y":2.06},{"series":"ResNet-20","kind":"train","x":4.03,"y":1.59},{"series":"ResNet-20","kind":"train","x":4.19,"y":1.21},{"series":"ResNet-20","kind":"train","x":4.35,"y":1.39},{"series":"ResNet-20","kind":"train","x":4.57,"y":1.29},{"series":"ResNet-20","kind":"train","x":4.68,"y":1.65},{"series":"ResNet-20","kind":"train","x":4.78,"y":0.69},{"series":"ResNet-20","kind":"train","x":4.89,"y":1.03},{"series":"ResNet-20","kind":"train","x":5.11,"y":0.62},{"series":"ResNet-20","kind":"train","x":5.32,"y":0.69},{"series":"ResNet-20","kind":"train","x":5.54,"y":0.69},{"series":"ResNet-20","kind":"train","x":5.7,"y":0.36},{"series":"ResNet-20","kind":"train","x":5.86,"y":0.57},{"series":"ResNet-20","kind":"train","x":5.99,"y":1.03},{"series":"ResNet-20","kind":"train","x":6.16,"y":0.44},{"series":"ResNet-20","kind":"train","x":6.29,"y":0.36},{"series":"ResNet-20","kind":"train","x":6.4,"y":0.82},
      {"series":"ResNet-32","kind":"train","x":0.25,"y":20.5},{"series":"ResNet-32","kind":"train","x":0.38,"y":14.7},{"series":"ResNet-32","kind":"train","x":0.48,"y":14.96},{"series":"ResNet-32","kind":"train","x":0.59,"y":13.8},{"series":"ResNet-32","kind":"train","x":0.7,"y":12.78},{"series":"ResNet-32","kind":"train","x":0.81,"y":11.6},{"series":"ResNet-32","kind":"train","x":0.91,"y":10.72},{"series":"ResNet-32","kind":"train","x":1.02,"y":9.82},{"series":"ResNet-32","kind":"train","x":1.13,"y":9.3},{"series":"ResNet-32","kind":"train","x":1.24,"y":8.92},{"series":"ResNet-32","kind":"train","x":1.34,"y":9.3},{"series":"ResNet-32","kind":"train","x":1.45,"y":8.28},{"series":"ResNet-32","kind":"train","x":1.56,"y":8.92},{"series":"ResNet-32","kind":"train","x":1.67,"y":7.76},{"series":"ResNet-32","kind":"train","x":1.77,"y":8.02},{"series":"ResNet-32","kind":"train","x":1.88,"y":7.25},{"series":"ResNet-32","kind":"train","x":1.99,"y":7.12},{"series":"ResNet-32","kind":"train","x":2.1,"y":7.76},{"series":"ResNet-32","kind":"train","x":2.2,"y":6.74},{"series":"ResNet-32","kind":"train","x":2.31,"y":7.5},{"series":"ResNet-32","kind":"train","x":2.42,"y":6.74},{"series":"ResNet-32","kind":"train","x":2.53,"y":6.6},{"series":"ResNet-32","kind":"train","x":2.63,"y":6.35},{"series":"ResNet-32","kind":"train","x":2.74,"y":5.58},{"series":"ResNet-32","kind":"train","x":2.85,"y":6.48},{"series":"ResNet-32","kind":"train","x":2.96,"y":5.96},{"series":"ResNet-32","kind":"train","x":3.04,"y":6.35},{"series":"ResNet-32","kind":"train","x":3.12,"y":5.71},{"series":"ResNet-32","kind":"train","x":3.2,"y":6.99},{"series":"ResNet-32","kind":"train","x":3.25,"y":3.14},{"series":"ResNet-32","kind":"train","x":3.31,"y":2.24},{"series":"ResNet-32","kind":"train","x":3.39,"y":1.85},{"series":"ResNet-32","kind":"train","x":3.49,"y":1.34},{"series":"ResNet-32","kind":"train","x":3.66,"y":0.87},{"series":"ResNet-32","kind":"train","x":3.82,"y":0.95},{"series":"ResNet-32","kind":"train","x":3.98,"y":0.69},{"series":"ResNet-32","kind":"train","x":4.19,"y":0.69},{"series":"ResNet-32","kind":"train","x":4.41,"y":0.51},{"series":"ResNet-32","kind":"train","x":4.62,"y":0.57},{"series":"ResNet-32","kind":"train","x":4.84,"y":0.44},{"series":"ResNet-32","kind":"train","x":4.95,"y":0.62},{"series":"ResNet-32","kind":"train","x":5.16,"y":0.36},{"series":"ResNet-32","kind":"train","x":5.38,"y":0.31},{"series":"ResNet-32","kind":"train","x":5.59,"y":0.36},{"series":"ResNet-32","kind":"train","x":5.81,"y":0.26},{"series":"ResNet-32","kind":"train","x":6.08,"y":0.26},{"series":"ResNet-32","kind":"train","x":6.4,"y":0.18},
      {"series":"ResNet-44","kind":"train","x":0.22,"y":20.5},{"series":"ResNet-44","kind":"train","x":0.35,"y":15.6},{"series":"ResNet-44","kind":"train","x":0.43,"y":15.2},{"series":"ResNet-44","kind":"train","x":0.54,"y":13.4},{"series":"ResNet-44","kind":"train","x":0.67,"y":12.65},{"series":"ResNet-44","kind":"train","x":0.78,"y":11.23},{"series":"ResNet-44","kind":"train","x":0.89,"y":9.82},{"series":"ResNet-44","kind":"train","x":0.99,"y":9.18},{"series":"ResNet-44","kind":"train","x":1.1,"y":8.15},{"series":"ResNet-44","kind":"train","x":1.21,"y":8.66},{"series":"ResNet-44","kind":"train","x":1.32,"y":7.63},{"series":"ResNet-44","kind":"train","x":1.42,"y":7.25},{"series":"ResNet-44","kind":"train","x":1.51,"y":8.02},{"series":"ResNet-44","kind":"train","x":1.61,"y":7.12},{"series":"ResNet-44","kind":"train","x":1.72,"y":6.74},{"series":"ResNet-44","kind":"train","x":1.83,"y":7.04},{"series":"ResNet-44","kind":"train","x":1.94,"y":6.35},{"series":"ResNet-44","kind":"train","x":2.04,"y":6.22},{"series":"ResNet-44","kind":"train","x":2.15,"y":6.6},{"series":"ResNet-44","kind":"train","x":2.26,"y":5.96},{"series":"ResNet-44","kind":"train","x":2.37,"y":6.74},{"series":"ResNet-44","kind":"train","x":2.47,"y":5.06},{"series":"ResNet-44","kind":"train","x":2.58,"y":6.22},{"series":"ResNet-44","kind":"train","x":2.69,"y":5.71},{"series":"ResNet-44","kind":"train","x":2.8,"y":5.58},{"series":"ResNet-44","kind":"train","x":2.9,"y":6.22},{"series":"ResNet-44","kind":"train","x":3.01,"y":5.96},{"series":"ResNet-44","kind":"train","x":3.12,"y":5.96},{"series":"ResNet-44","kind":"train","x":3.2,"y":5.45},{"series":"ResNet-44","kind":"train","x":3.25,"y":2.62},{"series":"ResNet-44","kind":"train","x":3.31,"y":1.47},{"series":"ResNet-44","kind":"train","x":3.41,"y":1.21},{"series":"ResNet-44","kind":"train","x":3.55,"y":0.95},{"series":"ResNet-44","kind":"train","x":3.71,"y":0.57},{"series":"ResNet-44","kind":"train","x":3.87,"y":0.44},{"series":"ResNet-44","kind":"train","x":4.09,"y":0.36},{"series":"ResNet-44","kind":"train","x":4.3,"y":0.31},{"series":"ResNet-44","kind":"train","x":4.52,"y":0.26},{"series":"ResNet-44","kind":"train","x":4.73,"y":0.18},{"series":"ResNet-44","kind":"train","x":5.0,"y":0.26},{"series":"ResNet-44","kind":"train","x":5.27,"y":0.18},{"series":"ResNet-44","kind":"train","x":5.54,"y":0.18},{"series":"ResNet-44","kind":"train","x":5.81,"y":0.1},{"series":"ResNet-44","kind":"train","x":6.4,"y":0.1},
      {"series":"ResNet-56","kind":"train","x":0.24,"y":20.5},{"series":"ResNet-56","kind":"train","x":0.38,"y":15.2},{"series":"ResNet-56","kind":"train","x":0.48,"y":14.2},{"series":"ResNet-56","kind":"train","x":0.59,"y":13.3},{"series":"ResNet-56","kind":"train","x":0.7,"y":13.4},{"series":"ResNet-56","kind":"train","x":0.81,"y":10.85},{"series":"ResNet-56","kind":"train","x":0.91,"y":9.05},{"series":"ResNet-56","kind":"train","x":1.02,"y":9.3},{"series":"ResNet-56","kind":"train","x":1.13,"y":8.53},{"series":"ResNet-56","kind":"train","x":1.24,"y":9.05},{"series":"ResNet-56","kind":"train","x":1.34,"y":7.9},{"series":"ResNet-56","kind":"train","x":1.45,"y":7.25},{"series":"ResNet-56","kind":"train","x":1.56,"y":7.5},{"series":"ResNet-56","kind":"train","x":1.67,"y":6.99},{"series":"ResNet-56","kind":"train","x":1.77,"y":5.58},{"series":"ResNet-56","kind":"train","x":1.88,"y":6.35},{"series":"ResNet-56","kind":"train","x":1.99,"y":6.74},{"series":"ResNet-56","kind":"train","x":2.1,"y":5.32},{"series":"ResNet-56","kind":"train","x":2.2,"y":6.09},{"series":"ResNet-56","kind":"train","x":2.31,"y":5.84},{"series":"ResNet-56","kind":"train","x":2.42,"y":6.35},{"series":"ResNet-56","kind":"train","x":2.53,"y":5.45},{"series":"ResNet-56","kind":"train","x":2.63,"y":4.94},{"series":"ResNet-56","kind":"train","x":2.74,"y":5.06},{"series":"ResNet-56","kind":"train","x":2.85,"y":5.32},{"series":"ResNet-56","kind":"train","x":2.96,"y":5.19},{"series":"ResNet-56","kind":"train","x":3.09,"y":4.04},{"series":"ResNet-56","kind":"train","x":3.17,"y":5.19},{"series":"ResNet-56","kind":"train","x":3.23,"y":4.94},{"series":"ResNet-56","kind":"train","x":3.28,"y":1.34},{"series":"ResNet-56","kind":"train","x":3.39,"y":0.82},{"series":"ResNet-56","kind":"train","x":3.55,"y":0.57},{"series":"ResNet-56","kind":"train","x":3.71,"y":0.44},{"series":"ResNet-56","kind":"train","x":3.87,"y":0.36},{"series":"ResNet-56","kind":"train","x":4.09,"y":0.26},{"series":"ResNet-56","kind":"train","x":4.3,"y":0.26},{"series":"ResNet-56","kind":"train","x":4.52,"y":0.18},{"series":"ResNet-56","kind":"train","x":4.73,"y":0.1},{"series":"ResNet-56","kind":"train","x":5.27,"y":0.1},{"series":"ResNet-56","kind":"train","x":6.4,"y":0.05},
      {"series":"ResNet-110","kind":"train","x":0.27,"y":20.5},{"series":"ResNet-110","kind":"train","x":0.43,"y":15.5},{"series":"ResNet-110","kind":"train","x":0.51,"y":15.0},{"series":"ResNet-110","kind":"train","x":0.6,"y":17.85},{"series":"ResNet-110","kind":"train","x":0.7,"y":13.9},{"series":"ResNet-110","kind":"train","x":0.8,"y":9.82},{"series":"ResNet-110","kind":"train","x":0.89,"y":11.1},{"series":"ResNet-110","kind":"train","x":0.99,"y":9.7},{"series":"ResNet-110","kind":"train","x":1.09,"y":7.76},{"series":"ResNet-110","kind":"train","x":1.18,"y":8.02},{"series":"ResNet-110","kind":"train","x":1.29,"y":6.99},{"series":"ResNet-110","kind":"train","x":1.4,"y":7.5},{"series":"ResNet-110","kind":"train","x":1.51,"y":6.74},{"series":"ResNet-110","kind":"train","x":1.61,"y":6.48},{"series":"ResNet-110","kind":"train","x":1.72,"y":6.35},{"series":"ResNet-110","kind":"train","x":1.8,"y":5.4},{"series":"ResNet-110","kind":"train","x":1.88,"y":6.74},{"series":"ResNet-110","kind":"train","x":1.99,"y":4.81},{"series":"ResNet-110","kind":"train","x":2.1,"y":6.86},{"series":"ResNet-110","kind":"train","x":2.18,"y":4.55},{"series":"ResNet-110","kind":"train","x":2.28,"y":6.22},{"series":"ResNet-110","kind":"train","x":2.39,"y":4.68},{"series":"ResNet-110","kind":"train","x":2.5,"y":5.96},{"series":"ResNet-110","kind":"train","x":2.61,"y":5.45},{"series":"ResNet-110","kind":"train","x":2.74,"y":4.42},{"series":"ResNet-110","kind":"train","x":2.88,"y":3.52},{"series":"ResNet-110","kind":"train","x":2.98,"y":5.45},{"series":"ResNet-110","kind":"train","x":3.09,"y":4.04},{"series":"ResNet-110","kind":"train","x":3.18,"y":5.19},{"series":"ResNet-110","kind":"train","x":3.25,"y":3.14},{"series":"ResNet-110","kind":"train","x":3.29,"y":0.82},{"series":"ResNet-110","kind":"train","x":3.44,"y":0.57},{"series":"ResNet-110","kind":"train","x":3.6,"y":0.31},{"series":"ResNet-110","kind":"train","x":3.87,"y":0.26},{"series":"ResNet-110","kind":"train","x":4.19,"y":0.18},{"series":"ResNet-110","kind":"train","x":4.73,"y":0.1},{"series":"ResNet-110","kind":"train","x":6.4,"y":0.05}
    ],
    "right": [
      {"series":"residual-110","kind":"test","x":3.5,"y":6.95},{"series":"residual-110","kind":"test","x":3.69,"y":7.0},{"series":"residual-110","kind":"test","x":3.89,"y":6.95},{"series":"residual-110","kind":"test","x":3.99,"y":7.05},{"series":"residual-110","kind":"test","x":4.13,"y":6.95},{"series":"residual-110","kind":"test","x":4.23,"y":7.0},{"series":"residual-110","kind":"test","x":4.37,"y":6.87},{"series":"residual-110","kind":"test","x":4.49,"y":6.79},{"series":"residual-110","kind":"test","x":4.61,"y":6.62},{"series":"residual-110","kind":"test","x":4.7,"y":6.74},{"series":"residual-110","kind":"test","x":4.8,"y":6.87},{"series":"residual-110","kind":"test","x":4.89,"y":6.62},{"series":"residual-110","kind":"test","x":4.99,"y":6.69},{"series":"residual-110","kind":"test","x":5.13,"y":6.62},{"series":"residual-110","kind":"test","x":5.27,"y":6.54},{"series":"residual-110","kind":"test","x":5.46,"y":6.67},{"series":"residual-110","kind":"test","x":5.61,"y":6.54},{"series":"residual-110","kind":"test","x":5.8,"y":6.62},{"series":"residual-110","kind":"test","x":5.99,"y":6.62},{"series":"residual-110","kind":"test","x":6.13,"y":6.54},{"series":"residual-110","kind":"test","x":6.3,"y":6.56},
      {"series":"residual-1202","kind":"test","x":3.5,"y":8.59},{"series":"residual-1202","kind":"test","x":3.6,"y":8.54},{"series":"residual-1202","kind":"test","x":3.69,"y":7.9},{"series":"residual-1202","kind":"test","x":3.79,"y":8.08},{"series":"residual-1202","kind":"test","x":3.89,"y":8.41},{"series":"residual-1202","kind":"test","x":4.0,"y":8.03},{"series":"residual-1202","kind":"test","x":4.09,"y":8.08},{"series":"residual-1202","kind":"test","x":4.2,"y":8.49},{"series":"residual-1202","kind":"test","x":4.3,"y":8.08},{"series":"residual-1202","kind":"test","x":4.41,"y":8.33},{"series":"residual-1202","kind":"test","x":4.5,"y":8.03},{"series":"residual-1202","kind":"test","x":4.61,"y":8.33},{"series":"residual-1202","kind":"test","x":4.7,"y":8.33},{"series":"residual-1202","kind":"test","x":4.8,"y":8.15},{"series":"residual-1202","kind":"test","x":4.92,"y":7.95},{"series":"residual-1202","kind":"test","x":5.08,"y":7.97},{"series":"residual-1202","kind":"test","x":5.32,"y":8.03},{"series":"residual-1202","kind":"test","x":5.56,"y":7.97},{"series":"residual-1202","kind":"test","x":5.78,"y":7.95},{"series":"residual-1202","kind":"test","x":5.9,"y":8.15},{"series":"residual-1202","kind":"test","x":6.02,"y":8.03},{"series":"residual-1202","kind":"test","x":6.13,"y":7.85},{"series":"residual-1202","kind":"test","x":6.3,"y":7.9},
      {"series":"residual-110","kind":"train","x":3.5,"y":0.7},{"series":"residual-110","kind":"train","x":3.6,"y":0.45},{"series":"residual-110","kind":"train","x":3.8,"y":0.35},{"series":"residual-110","kind":"train","x":4.0,"y":0.3},{"series":"residual-110","kind":"train","x":4.3,"y":0.25},{"series":"residual-110","kind":"train","x":4.5,"y":0.18},{"series":"residual-110","kind":"train","x":4.8,"y":0.12},{"series":"residual-110","kind":"train","x":5.0,"y":0.1},{"series":"residual-110","kind":"train","x":5.5,"y":0.06},{"series":"residual-110","kind":"train","x":6.0,"y":0.05},{"series":"residual-110","kind":"train","x":6.3,"y":0.05},
      {"series":"residual-1202","kind":"train","x":3.5,"y":0.85},{"series":"residual-1202","kind":"train","x":3.6,"y":0.6},{"series":"residual-1202","kind":"train","x":3.8,"y":0.45},{"series":"residual-1202","kind":"train","x":4.0,"y":0.35},{"series":"residual-1202","kind":"train","x":4.2,"y":0.3},{"series":"residual-1202","kind":"train","x":4.4,"y":0.2},{"series":"residual-1202","kind":"train","x":4.7,"y":0.12},{"series":"residual-1202","kind":"train","x":5.0,"y":0.05},{"series":"residual-1202","kind":"train","x":5.5,"y":0.05},{"series":"residual-1202","kind":"train","x":6.0,"y":0.08},{"series":"residual-1202","kind":"train","x":6.3,"y":0.05}
    ]
  },
  "bounds": "flush",
  "spacing": 90,
  "resolve": {"scale": {"x": "independent", "y": "independent", "color": "independent"}, "legend": {"color": "independent"}},
  "hconcat": [
    {
      "width": 396, "height": 260,
      "title": {
        "text": ["Figure 6. Training on CIFAR-10.\u00a0 Dashed lines denote training error, and bold lines denote testing error.\u00a0 Left: plain networks.\u00a0 The error", "of plain-110 is higher than 60% and not displayed.\u00a0 Middle: ResNets.\u00a0 Right: ResNets with 110 and 1202 layers."],
        "orient": "bottom", "anchor": "start", "frame": "group", "dx": -181, "offset": 2,
        "font": "Liberation Serif", "fontSize": 26.8, "fontWeight": "normal", "color": "black", "lineHeight": 28, "baseline": "top"
      },
      "data": {"name": "left"},
      "encoding": {
        "x": {"field": "x", "type": "quantitative", "scale": {"domain": [0, 6.4], "nice": false, "zero": false}, "axis": {"values": [0, 1, 2, 3, 4, 5, 6], "title": "iter. (1e4)"}},
        "y": {"field": "y", "type": "quantitative", "scale": {"domain": [0, 20], "nice": false}, "axis": {"values": [0, 5, 10, 20], "title": "error (%)"}}
      },
      "layer": [
        {"transform": [{"filter": "datum.kind == 'test'"}], "mark": {"type": "line", "strokeWidth": 3.5, "clip": true},
         "encoding": {"color": {"field": "series", "type": "nominal", "scale": {"domain": ["plain-20", "plain-32", "plain-44", "plain-56"], "range": ["#bcb31c", "#20f0f0", "#18e018", "#f21212"]}, "legend": {"orient": "bottom-left", "title": null}}}},
        {"transform": [{"filter": "datum.kind == 'train'"}], "mark": {"type": "line", "strokeWidth": 1, "strokeDash": [4, 2, 1, 2], "clip": true},
         "encoding": {"color": {"field": "series", "type": "nominal"}}},
        {"data": {"values": [{"x": 5.74, "y": 13.95, "t": "56-layer"}, {"x": 5.74, "y": 9.0, "t": "20-layer"}]},
         "mark": {"type": "text", "font": "Liberation Serif", "fontSize": 15, "color": "black"},
         "encoding": {"text": {"field": "t", "type": "nominal"}}}
      ]
    },
    {
      "bounds": "flush",
      "spacing": 60,
      "resolve": {"scale": {"x": "independent", "y": "independent", "color": "independent"}, "legend": {"color": "independent"}},
      "title": {"text": "https://blog.csdn.net/Code_Haruka", "orient": "bottom", "anchor": "end", "frame": "group", "dx": 812, "offset": 50, "font": "Liberation Sans", "fontSize": 16, "fontWeight": "normal", "color": "#d4d4d4"},
      "hconcat": [
        {
          "width": 396, "height": 260,
          "data": {"name": "middle"},
          "encoding": {
            "x": {"field": "x", "type": "quantitative", "scale": {"domain": [0, 6.4], "nice": false, "zero": false}, "axis": {"values": [0, 1, 2, 3, 4, 5, 6], "title": "iter. (1e4)"}},
            "y": {"field": "y", "type": "quantitative", "scale": {"domain": [0, 20], "nice": false}, "axis": {"values": [0, 5, 10, 20], "title": "error (%)"}}
          },
          "layer": [
            {"transform": [{"filter": "datum.kind == 'test'"}], "mark": {"type": "line", "strokeWidth": 3.5, "clip": true},
             "encoding": {"color": {"field": "series", "type": "nominal", "scale": {"domain": ["ResNet-20", "ResNet-32", "ResNet-44", "ResNet-56", "ResNet-110"], "range": ["#bcb31c", "#20f0f0", "#18e018", "#f21212", "#000000"]}, "legend": {"orient": "top-right", "title": null}}}},
            {"transform": [{"filter": "datum.kind == 'train'"}], "mark": {"type": "line", "strokeWidth": 1, "strokeDash": [4, 2, 1, 2], "clip": true},
             "encoding": {"color": {"field": "series", "type": "nominal"}}},
            {"data": {"values": [{"x": 5.68, "y": 9.41, "t": "20-layer"}, {"x": 5.69, "y": 5.51, "t": "110-layer"}]},
             "mark": {"type": "text", "font": "Liberation Serif", "fontSize": 15, "color": "black"},
             "encoding": {"text": {"field": "t", "type": "nominal"}}}
          ]
        },
        {
          "width": 194, "height": 260,
          "data": {"name": "right"},
          "encoding": {
            "x": {"field": "x", "type": "quantitative", "scale": {"domain": [3.5, 6.3], "nice": false, "zero": false}, "axis": {"values": [4, 5, 6], "title": "iter. (1e4)"}},
            "y": {"field": "y", "type": "quantitative", "scale": {"domain": [0, 20], "nice": false}, "axis": {"values": [0, 1, 5, 10, 20], "title": "error (%)"}}
          },
          "layer": [
            {"transform": [{"filter": "datum.kind == 'test'"}], "mark": {"type": "line", "strokeWidth": 3.5, "clip": true},
             "encoding": {"color": {"field": "series", "type": "nominal", "scale": {"domain": ["residual-110", "residual-1202"], "range": ["#000000", "#f014f0"]}, "legend": {"orient": "top-right", "title": null}}}},
            {"transform": [{"filter": "datum.kind == 'train'"}], "mark": {"type": "line", "strokeWidth": 1, "strokeDash": [4, 2, 1, 2], "clip": true},
             "encoding": {"color": {"field": "series", "type": "nominal"}}}
          ]
        }
      ]
    }
  ]
}
